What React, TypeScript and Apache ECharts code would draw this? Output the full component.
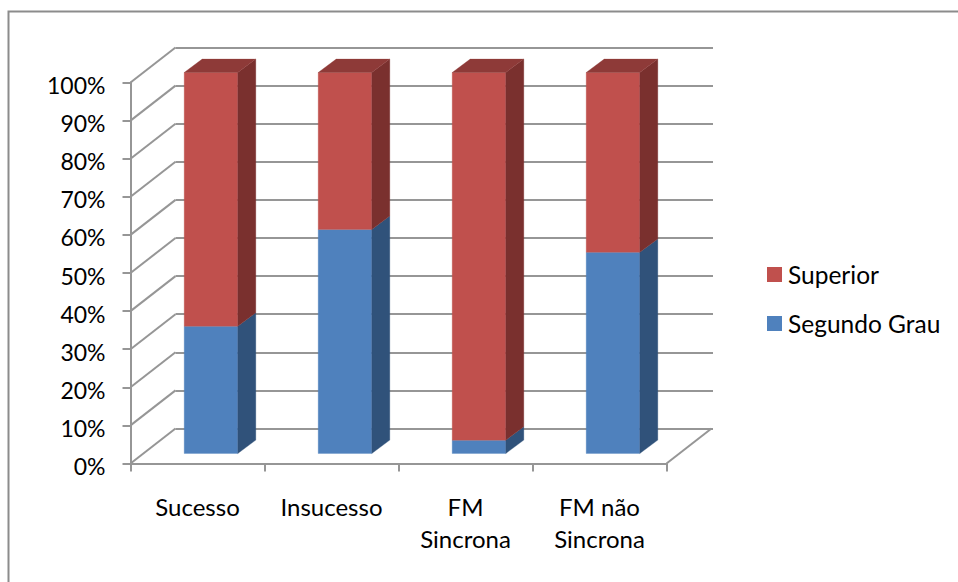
import React, { useEffect, useRef } from "react";
import * as echarts from "echarts";

const categories = ["Sucesso", "Insucesso", "FM\nSincrona", "FM não\nSincrona"];
const segundoGrau = [33.4, 58.8, 3.5, 52.8];
const superior = [66.6, 41.2, 96.5, 47.2];
const yTicks = [0, 10, 20, 30, 40, 50, 60, 70, 80, 90, 100];

const FONT = "Lato, Carlito, sans-serif";
const GRAY = "#969696";
// Projection of the chart box: the back wall sits up and to the right of the front plane.
const WALL_DX = 45;
const WALL_DY = -35;
// Bars stand in the middle of the floor's depth.
const BAR_FRONT_DX = 13.5;
const BAR_FRONT_DY = -10;
const BAR_DX = 18;
const BAR_DY = -13.4;

const box = (
  api: any,
  faces: { front: string; side: string; top?: string },
) => {
  const i = api.value(0);
  const low = api.coord([i, api.value(1)]);
  const high = api.coord([i, api.value(2)]);
  const w = api.size([1, 0])[0] / 2.5;
  const x0 = low[0] + BAR_FRONT_DX - w / 2;
  const x1 = x0 + w;
  const y0 = low[1] + BAR_FRONT_DY;
  const y1 = high[1] + BAR_FRONT_DY;
  const poly = (points: number[][], fill: string) => ({
    type: "polygon",
    shape: { points },
    style: { fill, stroke: fill, lineWidth: 0.3 },
  });
  const children = [
    poly([[x0, y0], [x1, y0], [x1, y1], [x0, y1]], faces.front),
    poly(
      [[x1, y0], [x1 + BAR_DX, y0 + BAR_DY], [x1 + BAR_DX, y1 + BAR_DY], [x1, y1]],
      faces.side,
    ),
  ];
  if (faces.top) {
    children.push(
      poly(
        [[x0, y1], [x1, y1], [x1 + BAR_DX, y1 + BAR_DY], [x0 + BAR_DX, y1 + BAR_DY]],
        faces.top,
      ),
    );
  }
  return { type: "group", children };
};

const wallLine = (x0: number, y0: number, x1: number, y1: number) => ({
  type: "line",
  shape: { x1: x0, y1: y0, x2: x1, y2: y1 },
  style: { stroke: GRAY, lineWidth: 2 },
});

export default function App() {
  const ref = useRef<HTMLDivElement>(null);

  useEffect(() => {
    const chart = echarts.init(ref.current!, undefined, { renderer: "svg" });
    chart.setOption({
      animation: false,
      backgroundColor: "#ffffff",
      textStyle: { fontFamily: FONT },
      grid: [
        { left: 130.5, top: 82.5, width: 536, height: 381 },
        { left: 130.5 + WALL_DX, top: 82.5 + WALL_DY, width: 536 + 1.5, height: 381 },
      ],
      xAxis: [
        {
          type: "category",
          gridIndex: 0,
          data: categories,
          boundaryGap: true,
          axisLine: { lineStyle: { color: GRAY, width: 2 } },
          axisTick: { show: true, length: 8, lineStyle: { color: GRAY, width: 2 } },
          axisLabel: {
            color: "#000000",
            fontFamily: FONT,
            fontSize: 24,
            lineHeight: 32,
            margin: 27,
            interval: 0,
          },
        },
        {
          type: "category",
          gridIndex: 1,
          data: categories,
          axisLine: { show: false },
          axisTick: { show: false },
          axisLabel: { show: false },
        },
      ],
      yAxis: [
        {
          type: "value",
          gridIndex: 0,
          min: 0,
          max: 100,
          interval: 10,
          splitLine: { show: false },
          axisLine: { show: true, lineStyle: { color: GRAY, width: 2 } },
          axisTick: { show: true, length: 8, lineStyle: { color: GRAY, width: 2 } },
          axisLabel: {
            color: "#000000",
            fontFamily: FONT,
            fontSize: 23,
            margin: 25,
            verticalAlign: "top",
            lineHeight: 5,
            formatter: "{value}%",
          },
        },
        {
          type: "value",
          gridIndex: 1,
          min: 0,
          max: 100,
          interval: 10,
          axisLine: { show: false },
          axisTick: { show: false },
          axisLabel: { show: false },
          splitLine: { show: true, lineStyle: { color: GRAY, width: 2 } },
        },
      ],
      legend: {
        orient: "vertical",
        left: 762,
        top: 257,
        icon: "rect",
        itemWidth: 15,
        itemHeight: 15,
        itemGap: 24,
        data: ["Superior", "Segundo Grau"],
        textStyle: { color: "#000000", fontFamily: FONT, fontSize: 24.5, padding: [0, 0, 0, 1] },
      },
      series: [
        {
          // Receding edges joining the value axis and the floor to the back wall.
          type: "custom",
          name: "Arestas",
          silent: true,
          xAxisIndex: 0,
          yAxisIndex: 0,
          data: yTicks.map((t) => [0, t]),
          encode: { x: 0, y: 1 },
          z: 1,
          renderItem: (params: any, api: any) => {
            const y = api.coord([0, api.value(1)])[1];
            const left = params.coordSys.x;
            const right = left + params.coordSys.width;
            const children = [wallLine(left, y, left + WALL_DX, y + WALL_DY)];
            if (api.value(1) === 0) {
              children.push(wallLine(right, y, right + WALL_DX, y + WALL_DY));
            }
            return { type: "group", children };
          },
        },
        {
          type: "custom",
          name: "Segundo Grau",
          xAxisIndex: 0,
          yAxisIndex: 0,
          itemStyle: { color: "#4f81bd" },
          data: segundoGrau.map((v, i) => [i, 0, v]),
          encode: { x: 0, y: [1, 2] },
          z: 3,
          renderItem: (_p: any, api: any) => box(api, { front: "#4f81bd", side: "#30527a" }),
        },
        {
          type: "custom",
          name: "Superior",
          xAxisIndex: 0,
          yAxisIndex: 0,
          itemStyle: { color: "#c0504d" },
          data: superior.map((v, i) => [i, segundoGrau[i], segundoGrau[i] + v]),
          encode: { x: 0, y: [1, 2] },
          z: 3,
          renderItem: (_p: any, api: any) =>
            box(api, { front: "#c0504d", side: "#7a302e", top: "#8e3a38" }),
        },
      ],
      graphic: [
        // Chart-area frame, open past the page's right and bottom edges.
        {
          type: "polyline",
          silent: true,
          shape: { points: [[8.5, 590], [8.5, 11.5], [966, 11.5]] },
          style: { fill: "none", stroke: "#8c8c8c", lineWidth: 2 },
        },
      ],
    });
    return () => chart.dispose();
  }, []);

  return (
    <div
      ref={ref}
      style={{ position: "absolute", left: 0, top: 0, width: 958, height: 582 }}
    />
  );
}
